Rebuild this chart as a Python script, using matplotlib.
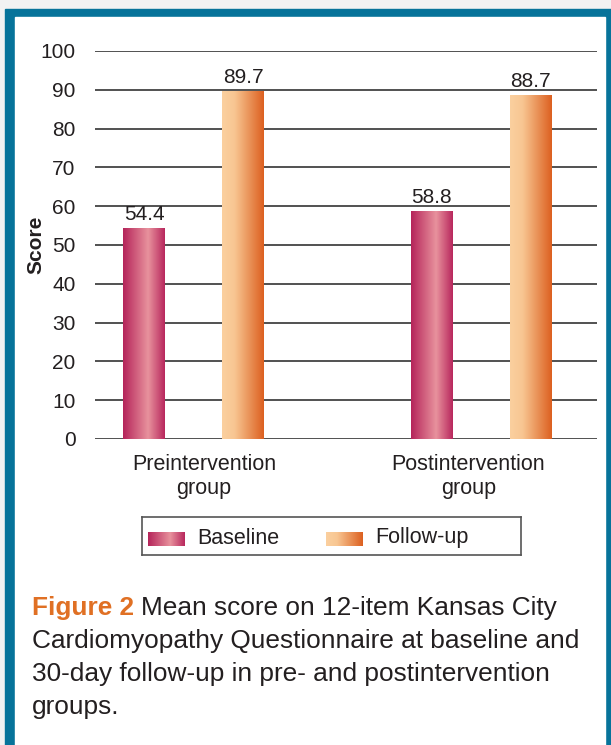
import matplotlib
matplotlib.use("Agg")
import matplotlib.pyplot as plt
import numpy as np
from matplotlib.patches import Rectangle
from matplotlib.colors import LinearSegmentedColormap

categories = ["Preintervention\ngroup", "Postintervention\ngroup"]
series_names = ["Baseline", "Follow-up"]
baseline = [54.4, 58.8]
followup = [89.7, 88.7]
yticks = [0, 10, 20, 30, 40, 50, 60, 70, 80, 90, 100]
caption_bold = "Figure 2"
caption_lines = ["Mean score on 12-item Kansas City",
                 "Cardiomyopathy Questionnaire at baseline and",
                 "30-day follow-up in pre- and postintervention",
                 "groups."]

plt.rcParams['font.family'] = ['Liberation Sans', 'DejaVu Sans']

W, H = 611, 745
fig = plt.figure(figsize=(W/100, H/100), dpi=100)
fig.patch.set_facecolor("#F2F2F2")

def px(x0, y0, x1, y1):
    return (x0/W, 1 - y1/H, (x1-x0)/W, (y1-y0)/H)

# frame
bx = px(5, 9, 611, 745)
fig.patches.append(Rectangle(bx[:2], bx[2], bx[3], transform=fig.transFigure, color="#07739A", zorder=-2))
ix = px(15, 17, 605, 745)
fig.patches.append(Rectangle(ix[:2], ix[2], ix[3], transform=fig.transFigure, color="white", zorder=-1))

base_cmap = LinearSegmentedColormap.from_list("base", [(0, "#B5245A"), (0.6, "#E8929D"), (1, "#B8275D")])
foll_cmap = LinearSegmentedColormap.from_list("foll", [(0, "#FBD09F"), (0.3, "#F8C692"), (1, "#DC6020")])
grad = np.linspace(0, 1, 256).reshape(1, -1)

textc = "#231F20"
ax = fig.add_axes(px(95, 51, 597, 439))
ax.set_zorder(2)
ax.set_facecolor("none")
x = np.arange(len(categories))
off = 0.172
bw = 0.146

for vals, sgn, cmap in [(baseline, -1, base_cmap), (followup, 1, foll_cmap)]:
    bars = ax.bar(x + sgn*off, vals, width=bw, facecolor="none", edgecolor="none", zorder=3)
    for b, v in zip(bars, vals):
        x0 = b.get_x(); x1 = x0 + b.get_width()
        im = ax.imshow(grad, cmap=cmap, extent=[x0, x1, 0, b.get_height()], aspect="auto", zorder=3)
        im.set_clip_path(b)
        ax.annotate(f"{v:.1f}", (b.get_x() + b.get_width()/2, v), xytext=(0, 3),
                    textcoords="offset points", ha="center", va="bottom", fontsize=15, color=textc)

ax.set_ylim(0, 100)
ax.set_xlim(-0.3435, 1.4026)
ax.set_yticks(yticks)
ax.set_yticklabels([str(t) for t in yticks], fontsize=15, color=textc)
ax.yaxis.grid(True, color="#333333", linewidth=1.2, zorder=1)
ax.set_axisbelow(True)
ax.tick_params(axis="y", length=0, pad=14)
ax.tick_params(axis="x", length=0, pad=11)
ax.set_xticks([0.035, 0.955])
ax.set_xticklabels(categories, fontsize=15.5, color=textc, linespacing=1.2)
for s in ax.spines.values():
    s.set_visible(False)
ax.set_ylabel("Score", fontsize=15, fontweight="bold", color=textc)
ax.yaxis.set_label_coords(-0.098, 0.5)

# legend
lb = px(142, 517, 521, 555)
lax = fig.add_axes(lb)
lax.set_zorder(2)
lax.imshow(grad, cmap=base_cmap, extent=[148, 185, 546, 532], aspect="auto")
lax.imshow(grad, cmap=foll_cmap, extent=[326, 363, 546, 532], aspect="auto")
lax.set_xlim(142, 521); lax.set_ylim(555, 517)
lax.set_xticks([]); lax.set_yticks([])
for s in lax.spines.values():
    s.set_color("#555555"); s.set_linewidth(1.2)
lax.text(197, 538, series_names[0], fontsize=15.5, va="center", ha="left", color=textc)
lax.text(375, 538, series_names[1], fontsize=15.5, va="center", ha="left", color=textc)

# caption
cy = [608, 641, 674, 707]
fs = 18.9
t0 = fig.text(32/W, 1 - cy[0]/H, caption_bold, fontsize=fs, fontweight="bold", color="#E07024", va="center", ha="left")
fig.canvas.draw()
r = fig.canvas.get_renderer()
bb = t0.get_window_extent(r)
fig.text((bb.x1 + 7)/W, 1 - cy[0]/H, caption_lines[0], fontsize=fs, color=textc, va="center", ha="left")
for line, yy in zip(caption_lines[1:], cy[1:]):
    fig.text(32/W, 1 - yy/H, line, fontsize=fs, color=textc, va="center", ha="left")

fig.savefig("out.png", dpi=100, facecolor=fig.get_facecolor())
